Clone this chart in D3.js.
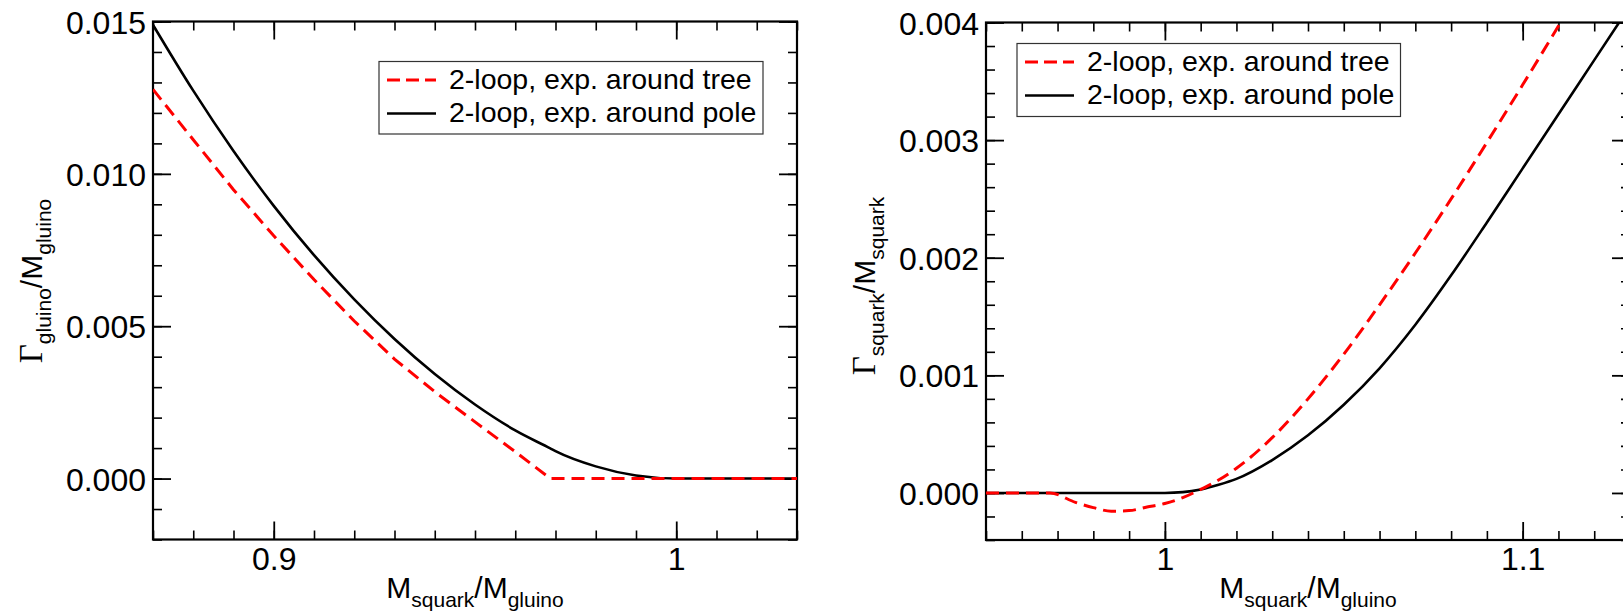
<!DOCTYPE html>
<html>
<head>
<meta charset="utf-8">
<script src="https://cdn.jsdelivr.net/npm/d3@7"></script>
<style>
  body { margin: 0; background: #fff; }
  svg { display: block; }
  text { font-family: "Liberation Sans", Arial, Helvetica, sans-serif; fill: #000; }
</style>
</head>
<body>
<svg id="fig" width="1623" height="616"></svg>
<script>
// ---- Gluino decay width vs. mass ratio ----
const gluinoRatio = [0.87, 0.88, 0.89, 0.90, 0.91, 0.92, 0.93, 0.94, 0.95, 0.96, 0.9687, 0.97, 0.98, 0.99, 1.00, 1.01, 1.02, 1.03];
const gluinoTree  = [0.01277, 0.01112, 0.00948, 0.00797, 0.00653, 0.00517, 0.00392, 0.00285, 0.00186, 0.00088, 0, 0, 0, 0, 0, 0, 0, 0];
const gluinoPole  = [0.01489, 0.01273, 0.01075, 0.00895, 0.00733, 0.00588, 0.00458, 0.00343, 0.00243, 0.00158, 0.00099, 0.00090, 0.00040, 0.00010, 0, 0, 0, 0];

// ---- Squark decay width vs. mass ratio ----
const squarkRatio = [0.95, 0.96, 0.9679, 0.975, 0.98, 0.985, 0.99, 0.995, 1.00, 1.005, 1.01, 1.015, 1.02, 1.03, 1.04, 1.05, 1.06, 1.07, 1.08, 1.09, 1.10, 1.11, 1.12, 1.13];
const squarkTree  = [0, 0, 0, -0.00008, -0.000125, -0.000155, -0.00015, -0.00012, -0.00009, -0.00004, 0.00003, 0.00011, 0.00021, 0.00047, 0.00080, 0.00118, 0.00160, 0.00204, 0.00250, 0.00298, 0.00347, 0.00397, 0.00448, 0.00500];
const squarkPole  = [0, 0, 0, 0, 0, 0, 0, 0, 0, 0.000007, 0.00003, 0.00007, 0.00012, 0.00028, 0.00049, 0.00075, 0.00106, 0.00143, 0.00185, 0.00230, 0.00276, 0.00322, 0.00368, 0.00414];

// ---- Axis ticks and labels ----
const gluinoXTicks  = [0.9, 1.0];
const gluinoXLabels = ["0.9", "1"];
const gluinoYTicks  = [0.000, 0.005, 0.010, 0.015];
const gluinoYLabels = ["0.000", "0.005", "0.010", "0.015"];
const squarkXTicks  = [1.0, 1.1];
const squarkXLabels = ["1", "1.1"];
const squarkYTicks  = [0.000, 0.001, 0.002, 0.003, 0.004];
const squarkYLabels = ["0.000", "0.001", "0.002", "0.003", "0.004"];

const legendLabels = ["2-loop, exp. around tree", "2-loop, exp. around pole"];

const svg = d3.select("#fig");
const MAJOR = 18, MINOR = 9;

function drawPanel(cfg) {
  const x = d3.scaleLinear().domain(cfg.xDomain).range([cfg.left, cfg.right]);
  const y = d3.scaleLinear().domain(cfg.yDomain).range([cfg.bottom, cfg.top]);
  const g = svg.append("g");

  const clipId = "clip-" + cfg.id;
  svg.append("defs").append("clipPath").attr("id", clipId)
    .append("rect")
    .attr("x", cfg.left).attr("y", cfg.top)
    .attr("width", cfg.right - cfg.left).attr("height", cfg.bottom - cfg.top);

  const xMinor = d3.range(Math.round(cfg.xDomain[0] / cfg.xMinorStep), Math.round(cfg.xDomain[1] / cfg.xMinorStep) + 1)
    .map(i => +(i * cfg.xMinorStep).toFixed(6));
  const yMinor = d3.range(Math.round(cfg.yDomain[0] / cfg.yMinorStep), Math.round(cfg.yDomain[1] / cfg.yMinorStep) + 1)
    .map(i => +(i * cfg.yMinorStep).toFixed(7));

  function styleAxis(sel, lw) {
    sel.select(".domain").remove();
    sel.selectAll(".tick line").attr("stroke", "#000").attr("stroke-width", lw);
  }

  // minor ticks on all four sides (inward)
  g.append("g").attr("transform", `translate(0,${cfg.bottom})`)
    .call(d3.axisBottom(x).tickValues(xMinor).tickSize(-MINOR).tickFormat(""))
    .call(s => styleAxis(s, 1.6));
  g.append("g").attr("transform", `translate(0,${cfg.top})`)
    .call(d3.axisTop(x).tickValues(xMinor).tickSize(-MINOR).tickFormat(""))
    .call(s => styleAxis(s, 1.6));
  g.append("g").attr("transform", `translate(${cfg.left},0)`)
    .call(d3.axisLeft(y).tickValues(yMinor).tickSize(-MINOR).tickFormat(""))
    .call(s => styleAxis(s, 1.6));
  g.append("g").attr("transform", `translate(${cfg.right},0)`)
    .call(d3.axisRight(y).tickValues(yMinor).tickSize(-MINOR).tickFormat(""))
    .call(s => styleAxis(s, 1.6));

  // major ticks with labels on bottom and left
  const xb = g.append("g").attr("transform", `translate(0,${cfg.bottom})`)
    .call(d3.axisBottom(x).tickValues(cfg.xTicks).tickSize(-MAJOR).tickPadding(0)
      .tickFormat((d, i) => cfg.xLabels[i]))
    .call(s => styleAxis(s, 1.8));
  xb.selectAll(".tick text").attr("y", 30).attr("dy", null)
    .style("font-size", "32px").style("font-family", "'Liberation Sans', Arial, sans-serif");

  const yl = g.append("g").attr("transform", `translate(${cfg.left},0)`)
    .call(d3.axisLeft(y).tickValues(cfg.yTicks).tickSize(-MAJOR).tickPadding(0)
      .tickFormat((d, i) => cfg.yLabels[i]))
    .call(s => styleAxis(s, 1.8));
  yl.selectAll(".tick text").attr("x", -7).attr("dy", "0.36em")
    .style("font-size", "32px").style("font-family", "'Liberation Sans', Arial, sans-serif");

  g.append("g").attr("transform", `translate(0,${cfg.top})`)
    .call(d3.axisTop(x).tickValues(cfg.xTicks).tickSize(-MAJOR).tickFormat(""))
    .call(s => styleAxis(s, 1.8));
  g.append("g").attr("transform", `translate(${cfg.right},0)`)
    .call(d3.axisRight(y).tickValues(cfg.yTicks).tickSize(-MAJOR).tickFormat(""))
    .call(s => styleAxis(s, 1.8));

  // frame
  g.append("rect")
    .attr("x", cfg.left).attr("y", cfg.top)
    .attr("width", cfg.right - cfg.left).attr("height", cfg.bottom - cfg.top)
    .attr("fill", "none").attr("stroke", "#000").attr("stroke-width", 2.2);

  // curves
  const plot = g.append("g").attr("clip-path", `url(#${clipId})`);
  const treeLine = d3.line().x((d, i) => x(cfg.xs[i])).y(d => y(d)).curve(cfg.treeCurve);
  const poleLine = d3.line().x((d, i) => x(cfg.xs[i])).y(d => y(d)).curve(d3.curveMonotoneX);
  plot.append("path").attr("d", poleLine(cfg.pole))
    .attr("fill", "none").attr("stroke", "#000").attr("stroke-width", 2.6);
  plot.append("path").attr("d", treeLine(cfg.tree))
    .attr("fill", "none").attr("stroke", "#ff0000").attr("stroke-width", 3)
    .attr("stroke-dasharray", "13,7");

  // legend
  const L = cfg.legend;
  const lg = g.append("g");
  lg.append("rect").attr("x", L.x).attr("y", L.y).attr("width", L.w).attr("height", L.h)
    .attr("fill", "#fff").attr("stroke", "#333").attr("stroke-width", 1.2);
  const rows = [
    { label: legendLabels[0], color: "#ff0000", dash: "13,6", width: 3 },
    { label: legendLabels[1], color: "#000", dash: null, width: 2.6 }
  ];
  rows.forEach((r, i) => {
    const cy = L.y + 18.5 + i * 33.5;
    lg.append("line").attr("x1", L.x + 8).attr("x2", L.x + 57).attr("y1", cy).attr("y2", cy)
      .attr("stroke", r.color).attr("stroke-width", r.width).attr("stroke-dasharray", r.dash);
    lg.append("text").attr("x", L.x + 70).attr("y", cy + 8.5)
      .style("font-size", "28.5px").text(r.label);
  });

  // x axis title
  const xt = g.append("text").attr("x", (cfg.left + Math.min(cfg.right, 1630)) / 2).attr("y", 598)
    .attr("text-anchor", "middle").style("font-size", "30px");
  xt.append("tspan").text("M");
  xt.append("tspan").attr("dy", 9).style("font-size", "21px").text("squark");
  xt.append("tspan").attr("dy", -9).text("/M");
  xt.append("tspan").attr("dy", 9).style("font-size", "21px").text("gluino");

  // y axis title
  const yt = g.append("text")
    .attr("transform", `translate(${cfg.yTitleX},${cfg.yTitleY}) rotate(-90)`)
    .attr("text-anchor", "middle").style("font-size", "30px");
  yt.append("tspan").style("font-family", "'Liberation Serif', 'Times New Roman', serif")
    .style("font-size", "33px").text("\u0393");
  yt.append("tspan").attr("dy", 9).style("font-size", "21px").text(cfg.sub);
  yt.append("tspan").attr("dy", -9).text("/M");
  yt.append("tspan").attr("dy", 9).style("font-size", "21px").text(cfg.sub);
}

drawPanel({
  id: "gluino", left: 153, right: 797, top: 21.5, bottom: 539.5,
  xDomain: [0.87, 1.03], yDomain: [-0.002, 0.015],
  xMinorStep: 0.01, yMinorStep: 0.001,
  xTicks: gluinoXTicks, xLabels: gluinoXLabels,
  yTicks: gluinoYTicks, yLabels: gluinoYLabels,
  xs: gluinoRatio, tree: gluinoTree, pole: gluinoPole, treeCurve: d3.curveLinear,
  legend: { x: 379, y: 61.5, w: 384, h: 72.5 },
  yTitleX: 42, yTitleY: 281, sub: "gluino"
});

drawPanel({
  id: "squark", left: 986, right: 1630, top: 22.5, bottom: 540,
  xDomain: [0.95, 1.13], yDomain: [-0.0004, 0.004],
  xMinorStep: 0.01, yMinorStep: 0.0002,
  xTicks: squarkXTicks, xLabels: squarkXLabels,
  yTicks: squarkYTicks, yLabels: squarkYLabels,
  xs: squarkRatio, tree: squarkTree, pole: squarkPole, treeCurve: d3.curveMonotoneX,
  legend: { x: 1017, y: 43.5, w: 383.5, h: 73 },
  yTitleX: 875, yTitleY: 286, sub: "squark"
});
</script>
</body>
</html>
